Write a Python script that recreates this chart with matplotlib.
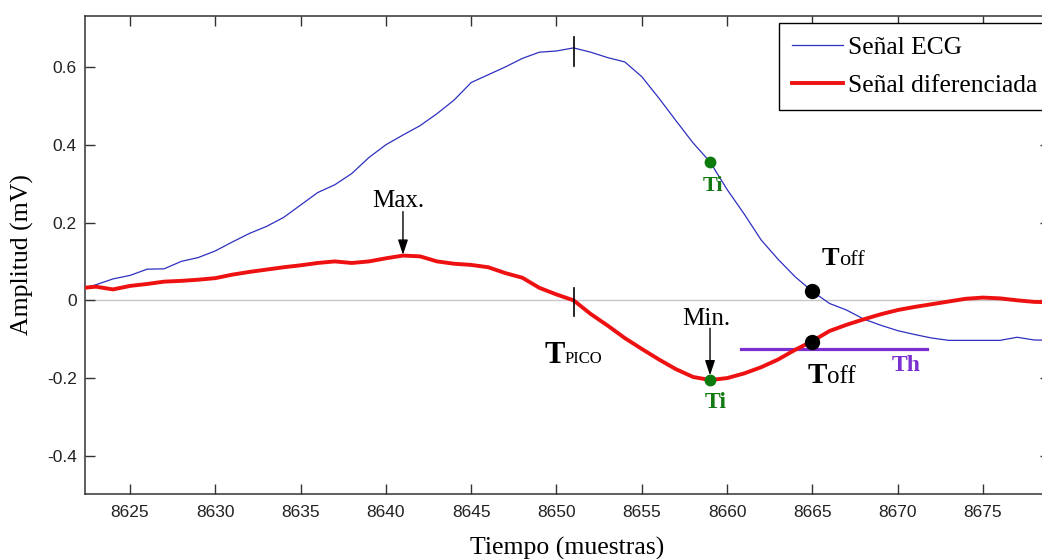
import numpy as np
import matplotlib
matplotlib.use('Agg')
import matplotlib.pyplot as plt
from matplotlib import font_manager as fm
from matplotlib.transforms import offset_copy

plt.rcParams['font.family'] = ['Liberation Serif', 'DejaVu Serif']

samples = list(range(8622, 8680))
ecg = [0.028, 0.040, 0.055, 0.064, 0.080, 0.081, 0.100, 0.110, 0.127, 0.150,
       0.172, 0.190, 0.213, 0.245, 0.277, 0.297, 0.326, 0.367, 0.400, 0.425,
       0.449, 0.480, 0.515, 0.560, 0.580, 0.600, 0.622, 0.638, 0.641, 0.649,
       0.638, 0.624, 0.613, 0.575, 0.520, 0.462, 0.405, 0.356, 0.285, 0.222,
       0.155, 0.105, 0.060, 0.023, -0.008, -0.025, -0.048, -0.064, -0.078, -0.088,
       -0.097, -0.103, -0.103, -0.103, -0.103, -0.095, -0.102, -0.103]
diff = [0.031, 0.035, 0.028, 0.037, 0.042, 0.048, 0.050, 0.053, 0.057, 0.066,
        0.073, 0.079, 0.085, 0.090, 0.096, 0.100, 0.096, 0.100, 0.108, 0.115,
        0.113, 0.100, 0.094, 0.091, 0.085, 0.070, 0.058, 0.032, 0.015, 0.000,
        -0.035, -0.065, -0.097, -0.125, -0.152, -0.177, -0.197, -0.205, -0.200, -0.188,
        -0.172, -0.152, -0.127, -0.105, -0.079, -0.063, -0.049, -0.036, -0.025, -0.017,
        -0.010, -0.003, 0.004, 0.007, 0.005, 0.000, -0.004, -0.005]

x_ticks = [8625, 8630, 8635, 8640, 8645, 8650, 8655, 8660, 8665, 8670, 8675]
y_ticks = [-0.4, -0.2, 0.0, 0.2, 0.4, 0.6]
y_tick_labels = ['-0.4', '-0.2', '0', '0.2', '0.4', '0.6']

t_pico = 8651
t_i = 8659
t_off = 8665
th_level = -0.126
th_range = [8660.8, 8671.7]
ecg_ti, diff_ti = 0.356, -0.205
ecg_toff, diff_toff = 0.023, -0.108
t_max, v_max = 8641, 0.115

names = {f.name for f in fm.fontManager.ttflist}
if 'Liberation Sans Narrow' in names:
    tick_family, tick_size = ['Liberation Sans Narrow', 'DejaVu Sans'], 13
else:
    tick_family, tick_size = ['Liberation Sans', 'DejaVu Sans'], 12.5

W, H = 1042, 559
fig = plt.figure(figsize=(W / 100, H / 100), dpi=100)
ax = fig.add_axes([85 / W, (H - 494) / H, (1050 - 85) / W, (494 - 16) / H])

ax.axhline(0, color='#c8c8c8', lw=1.0, zorder=1)
ax.plot(samples, ecg, color='#2f2fc0', lw=0.9, label='Señal ECG', zorder=3)
ax.plot(samples, diff, color='#ee1111', lw=2.8, label='Señal diferenciada', zorder=3)

# T peak marks
ax.plot([t_pico, t_pico], [0.603, 0.677], color='black', lw=1.2, zorder=4)
ax.plot([t_pico, t_pico], [0.031, -0.041], color='black', lw=1.2, zorder=4)

# threshold
ax.plot(th_range, [th_level, th_level], color='#7b2fd0', lw=2.3, zorder=2)

# Ti points
ax.plot([t_i, t_i], [ecg_ti, diff_ti], ls='none', marker='o', ms=7.5,
        color='#0d7a0d', zorder=5)
# Toff points
ax.plot([t_off, t_off], [ecg_toff, diff_toff], ls='none', marker='o', ms=10,
        color='black', zorder=5)

green = '#137a13'
ax.text(8659.15, 0.282, 'Ti', color=green, fontsize=16, fontweight='bold',
        ha='center', va='baseline', zorder=6)
ax.text(8659.35, -0.277, 'Ti', color=green, fontsize=17, fontweight='bold',
        ha='center', va='baseline', zorder=6)
ax.text(8669.66, -0.183, 'Th', color='#7b2fd0', fontsize=17, fontweight='bold',
        ha='left', va='baseline', zorder=6)

fig.canvas.draw()
renderer = fig.canvas.get_renderer()

def big_small(x, y, big, small, bsize, ssize, gap_px=0.0):
    t = ax.text(x, y, big, fontsize=bsize, fontweight='bold', ha='left',
                va='baseline', color='black', zorder=6)
    bb = t.get_window_extent(renderer=renderer)
    dx_pt = (bb.width + gap_px) * 72.0 / fig.dpi
    tr = offset_copy(ax.transData, fig=fig, x=dx_pt, y=0, units='points')
    ax.text(x, y, small, fontsize=ssize, ha='left', va='baseline',
            color='black', zorder=6, transform=tr)

big_small(8665.56, 0.09, 'T', 'off', 19, 16)
big_small(8664.7, -0.213, 'T', 'off', 21, 18)
big_small(8649.3, -0.161, 'T', 'PICO', 22, 12)

# Max / Min annotations
ax.annotate('', xy=(t_max, v_max + 0.002), xytext=(t_max, 0.228),
            arrowprops=dict(arrowstyle='-|>,head_length=0.9,head_width=0.3',
                            color='black', lw=1.0, shrinkA=0, shrinkB=0), zorder=6)
ax.text(8640.7, 0.241, 'Max.', fontsize=18, ha='center', va='baseline', zorder=6)
ax.annotate('', xy=(t_i, diff_ti + 0.012), xytext=(t_i, -0.072),
            arrowprops=dict(arrowstyle='-|>,head_length=0.9,head_width=0.3',
                            color='black', lw=1.0, shrinkA=0, shrinkB=0), zorder=6)
ax.text(8658.8, -0.064, 'Min.', fontsize=18, ha='center', va='baseline', zorder=6)

ax.set_xlim(8622.36, 8678.93)
ax.set_ylim(-0.498, 0.731)
ax.set_xticks(x_ticks)
ax.set_xticklabels([str(v) for v in x_ticks])
ax.set_yticks(y_ticks)
ax.set_yticklabels(y_tick_labels)
ax.tick_params(direction='in', length=7.2, width=1.0, top=True, right=True,
               colors='#333333', labelcolor='#222222', labelsize=tick_size)
ax.tick_params(axis='x', pad=8)
ax.tick_params(axis='y', pad=6)
for lab in ax.get_xticklabels() + ax.get_yticklabels():
    lab.set_family(tick_family)
for s in ax.spines.values():
    s.set_color('#333333')
    s.set_linewidth(1.1)

ax.set_xlabel('Tiempo (muestras)', fontsize=18.5, labelpad=12)
ax.set_ylabel('Amplitud (mV)', fontsize=18.5, labelpad=9)

leg = ax.legend(loc='upper left', bbox_to_anchor=(779 / W, (H - 23) / H),
                bbox_transform=fig.transFigure, borderaxespad=0, fontsize=18.4,
                frameon=True, fancybox=False, framealpha=1, edgecolor='black',
                handlelength=2.0, handletextpad=0.2, borderpad=0.5, labelspacing=0.6)
leg.get_frame().set_linewidth(1.0)

fig.savefig('out.png', dpi=100)
